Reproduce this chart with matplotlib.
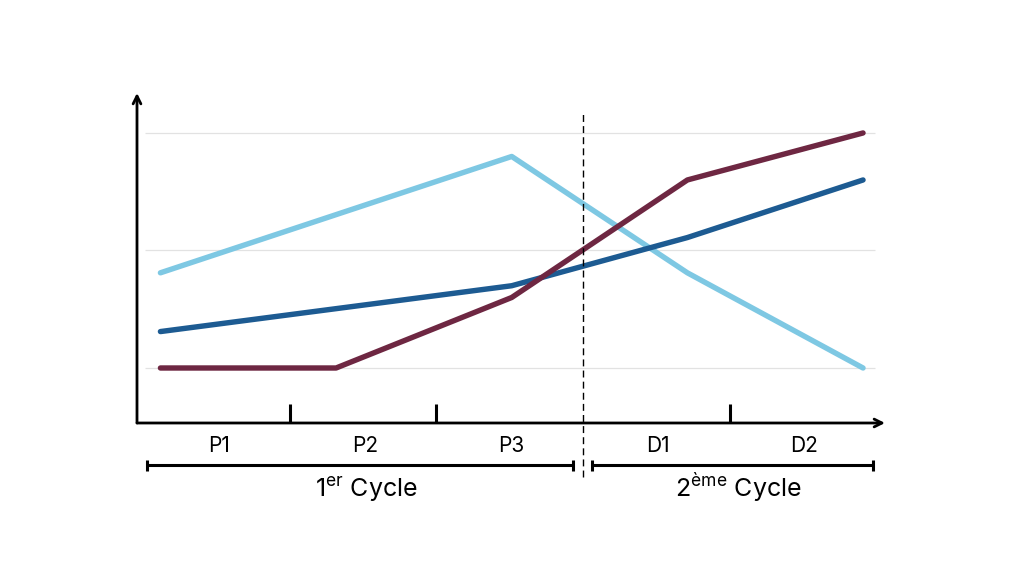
import matplotlib
matplotlib.use("Agg")
import matplotlib.pyplot as plt

plt.rcParams['font.family'] = ['Inter', 'DejaVu Sans']
plt.rcParams['mathtext.fontset'] = 'custom'
plt.rcParams['mathtext.rm'] = 'Inter'
plt.rcParams['mathtext.it'] = 'Inter'

# periods (label positions are the category index)
periods = ["P1", "P2", "P3", "D1", "D2"]
# x of the line knots, in category units
knots_x = [-0.4, 0.8, 2.0, 3.2, 4.4]

light_blue = [1.81, None, 2.80, 1.81, 1.0]
dark_blue = [1.31, None, 1.70, 2.11, 2.60]
maroon = [1.0, 1.0, 1.60, 2.60, 3.0]

grid_levels = [1, 2, 3]
period_ticks = [0.485, 1.483, 3.488]
cycles = ["1$^{\\mathrm{er}}$ Cycle", "2$^{\\mathrm{ème}}$ Cycle"]
cycle_spans = [(-0.49, 2.42), (2.55, 4.47)]
cycle_split = 2.485

C_LIGHT = "#7ec8e3"
C_DARK = "#1d5b92"
C_MAROON = "#6e2742"


def series(ys):
    pts = [(x, y) for x, y in zip(knots_x, ys) if y is not None]
    return [p[0] for p in pts], [p[1] for p in pts]


fig = plt.figure(figsize=(10.24, 5.76), dpi=100)
ax = fig.add_axes([137 / 1024, 153 / 576, 748 / 1024, 330 / 576])
xmin, xmax = -0.56, 4.55
ymin, ymax = 0.532, 3.34
ax.set_xlim(xmin, xmax)
ax.set_ylim(ymin, ymax)
ax.axis("off")

# grid
ax.hlines(grid_levels, -0.505, 4.48, color="#e2e2e2", lw=0.9, zorder=0)

for ys, c in [(light_blue, C_LIGHT), (dark_blue, C_DARK), (maroon, C_MAROON)]:
    xs, yv = series(ys)
    ax.plot(xs, yv, color=c, lw=3.9, solid_capstyle="round",
            solid_joinstyle="round", zorder=3)

# axes with arrows
arrow = dict(arrowstyle="->", lw=2.0, color="black", mutation_scale=14,
             shrinkA=0, shrinkB=0)
ax.annotate("", xy=(xmax, ymin), xytext=(xmin, ymin), arrowprops=arrow,
            annotation_clip=False)
ax.annotate("", xy=(xmin, ymax), xytext=(xmin, ymin), arrowprops=arrow,
            annotation_clip=False)

# ticks between periods
for t in period_ticks:
    ax.plot([t, t], [ymin, ymin + 0.165], color="black", lw=2.2,
            solid_capstyle="butt", clip_on=False)

# cycle split
ax.plot([cycle_split, cycle_split], [0.072, 3.17], color="black", lw=1.0,
        ls=(0, (5, 3)), clip_on=False, zorder=4)

# period labels
for i, p in enumerate(periods):
    ax.text(i, 0.285, p, ha="center", va="baseline", fontsize=15,
            clip_on=False)

# cycle brackets
for (a, b), label in zip(cycle_spans, cycles):
    ax.plot([a, b], [0.174, 0.174], color="black", lw=2.2, clip_on=False,
            solid_capstyle="butt")
    for e in (a, b):
        ax.plot([e, e], [0.127, 0.221], color="black", lw=2.2,
                clip_on=False, solid_capstyle="butt")
    ax.text((a + b) / 2 + 0.04, -0.098, label, ha="center", va="baseline",
            fontsize=18, clip_on=False)

fig.savefig("out.png", dpi=100, facecolor="white")
